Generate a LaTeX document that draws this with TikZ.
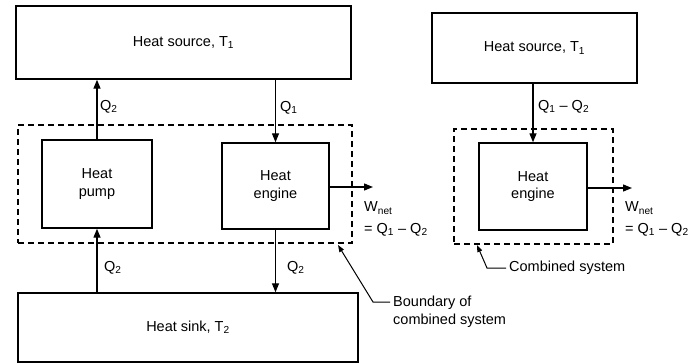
\documentclass[tikz,border=0pt]{standalone}
\usepackage{fontspec}
\setmainfont{Liberation Sans}
\usetikzlibrary{arrows.meta,calc}
\begin{document}
\begin{tikzpicture}[x=1pt,y=-1pt,
  every node/.style={font=\fontsize{14.5}{17.5}\selectfont,inner sep=0pt},
  blk/.style={draw,line width=1.4pt,align=center},
  flow/.style={line width=1.3pt,-{Triangle[length=9pt,width=7pt]}},
  lead/.style={line width=1pt,-{Triangle[length=7pt,width=5pt]}},
  bnd/.style={draw,dash pattern=on 6pt off 4pt,line width=1.2pt}
]
\useasboundingbox (0,0) rectangle (696,364);
% left system
\node[blk,minimum width=335pt,minimum height=73pt] (src) at (183.5,42.5) {Heat source, T\textsubscript{1}};
\node[bnd,minimum width=334pt,minimum height=118pt] (lb) at (185,184) {};
\node[blk,minimum width=110pt,minimum height=88pt] (pump) at (97,184) {Heat\\pump};
\node[blk,minimum width=107pt,minimum height=86pt] (eng) at (275.5,186) {Heat\\engine};
\node[blk,minimum width=340pt,minimum height=69pt] (sink) at (188,327.5) {Heat sink, T\textsubscript{2}};
\draw[flow] (pump.north) -- (pump.north |- src.south);
\draw[flow] (eng.north |- src.south) -- (eng.north);
\draw[flow] (pump.south |- sink.north) -- (pump.south);
\draw[flow] (eng.south) -- (eng.south |- sink.north);
\node[anchor=west] (q2a) at (100,107) {Q\textsubscript{2}};
\node[anchor=west] (q1a) at (280,108) {Q\textsubscript{1}};
\node[anchor=west] (q2b) at (104,268) {Q\textsubscript{2}};
\node[anchor=west] (q2c) at (287,268) {Q\textsubscript{2}};
\coordinate (w1) at (373,187);
\draw[flow] (eng.east |- w1) -- (w1);
\node[anchor=west] (wn1) at (364,208) {W\textsubscript{net}};
\node[anchor=west] (wq1) at (364,230) {= Q\textsubscript{1} -- Q\textsubscript{2}};
\node[anchor=west,align=left,font=\fontsize{14.5}{18}\selectfont] (blab) at (393,312) {Boundary of\\combined system};
\coordinate (bt) at (338,245);
\draw[lead] (blab.west |- 0,302) ++(-3,0) -- (373,302) -- (bt);
% right system
\node[blk,minimum width=205pt,minimum height=70pt] (src2) at (534.5,48) {Heat source, T\textsubscript{1}};
\node[bnd,minimum width=159pt,minimum height=115pt] (rb) at (533.5,186.5) {};
\node[blk,minimum width=108pt,minimum height=87pt] (eng2) at (533,186.5) {Heat\\engine};
\draw[flow] (eng2.north |- src2.south) -- (eng2.north);
\node[anchor=west] (q12) at (538,107) {Q\textsubscript{1} -- Q\textsubscript{2}};
\coordinate (w2) at (632,188);
\draw[flow] (eng2.east |- w2) -- (w2);
\node[anchor=west] (wn2) at (625,208) {W\textsubscript{net}};
\node[anchor=west] (wq2) at (625,230) {= Q\textsubscript{1} -- Q\textsubscript{2}};
\node[anchor=west] (cs) at (509,268) {Combined system};
\coordinate (ct) at (477,245);
\draw[lead] ($(cs.west)+(-3,0)$) -- (487,268) -- (ct);
\end{tikzpicture}
\end{document}
